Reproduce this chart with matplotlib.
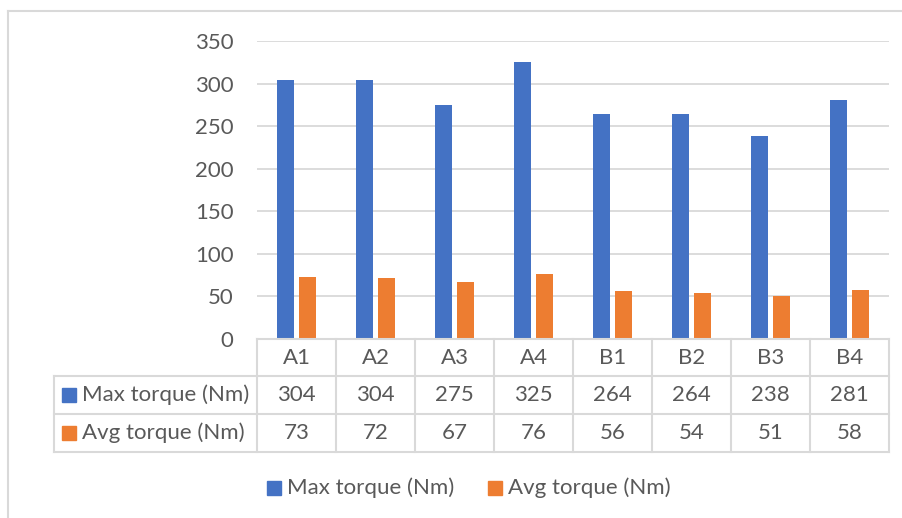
import matplotlib.pyplot as plt
import matplotlib.transforms as mtransforms
from matplotlib.lines import Line2D
from matplotlib.patches import Rectangle
import numpy as np

# Torque per test configuration
configs = ['A1', 'A2', 'A3', 'A4', 'B1', 'B2', 'B3', 'B4']
max_torque = [304, 304, 275, 325, 264, 264, 238, 281]
avg_torque = [73, 72, 67, 76, 56, 54, 51, 58]
series_names = ['Max torque (Nm)', 'Avg torque (Nm)']

blue = '#4472c4'
orange = '#ed7d31'
grid_col = '#d9d9d9'
text_col = '#595959'
W, H = 903, 518
fs = 16

plt.rcParams['font.family'] = ['Lato', 'DejaVu Sans']
plt.rcParams['font.size'] = fs

fig = plt.figure(figsize=(W / 100, H / 100), dpi=100)


def fy(py):
    # pixel row -> figure fraction
    return 1 - py / H


# plot area in pixels: x 257..889, y 41..339
ax = fig.add_axes([257 / W, fy(339), 632 / W, (339 - 41) / H])
x = np.arange(len(configs))
bw = 0.22
ax.bar(x - 0.142, max_torque, bw, color=blue, zorder=2)
ax.bar(x + 0.142, avg_torque, bw, color=orange, zorder=2)
ax.set_xlim(-0.5, len(configs) - 0.5)
ax.set_ylim(0, 350)
ax.set_yticks(range(0, 351, 50))
ax.yaxis.grid(True, color=grid_col, lw=1.3)
ax.tick_params(axis='y', length=0, pad=17, colors=text_col, labelsize=fs)
ax.set_xticks([])
for s in ax.spines.values():
    s.set_visible(False)

# data table under the bars
tr = mtransforms.blended_transform_factory(ax.transData, fig.transFigure)
row_edges = [339, 376, 414, 452]
label_left = -0.5 + (54 - 257) / 79.0
line_kw = dict(color=grid_col, lw=1.5, transform=tr, clip_on=False)

ax.add_line(Line2D([-0.5, len(configs) - 0.5], [fy(339)] * 2, **line_kw))
for py in row_edges[1:]:
    ax.add_line(Line2D([label_left, len(configs) - 0.5], [fy(py)] * 2, **line_kw))
for i in range(len(configs) + 1):
    ax.add_line(Line2D([i - 0.5] * 2, [fy(339), fy(452)], **line_kw))
ax.add_line(Line2D([label_left] * 2, [fy(376), fy(452)], **line_kw))

rows = [configs, max_torque, avg_torque]
for r, vals in enumerate(rows):
    yc = fy((row_edges[r] + row_edges[r + 1]) / 2)
    for i, v in enumerate(vals):
        ax.text(i, yc, str(v), transform=tr, ha='center', va='center',
                color=text_col, fontsize=fs, clip_on=False)

sq = 14
for r, (name, col) in enumerate(zip(series_names, [blue, orange])):
    yc = (row_edges[r + 1] + row_edges[r + 2]) / 2
    fig.add_artist(Rectangle((62 / W, fy(yc + sq / 2)), sq / W, sq / H,
                             color=col, transform=fig.transFigure))
    fig.text(82 / W, fy(yc), name, ha='left', va='center', color=text_col, fontsize=fs)

# legend
legend_y = 488
for name, col, px in zip(series_names, [blue, orange], [267, 488]):
    fig.add_artist(Rectangle((px / W, fy(legend_y + sq / 2)), sq / W, sq / H,
                             color=col, transform=fig.transFigure))
    fig.text((px + 20) / W, fy(legend_y), name, ha='left', va='center',
             color=text_col, fontsize=fs)

# chart frame
fig.add_artist(Line2D([8 / W, 1], [fy(11)] * 2, color=grid_col, lw=1.5,
                      transform=fig.transFigure))
fig.add_artist(Line2D([8 / W] * 2, [fy(11), 0], color=grid_col, lw=1.5,
                      transform=fig.transFigure))

fig.savefig('out.png', dpi=100)
